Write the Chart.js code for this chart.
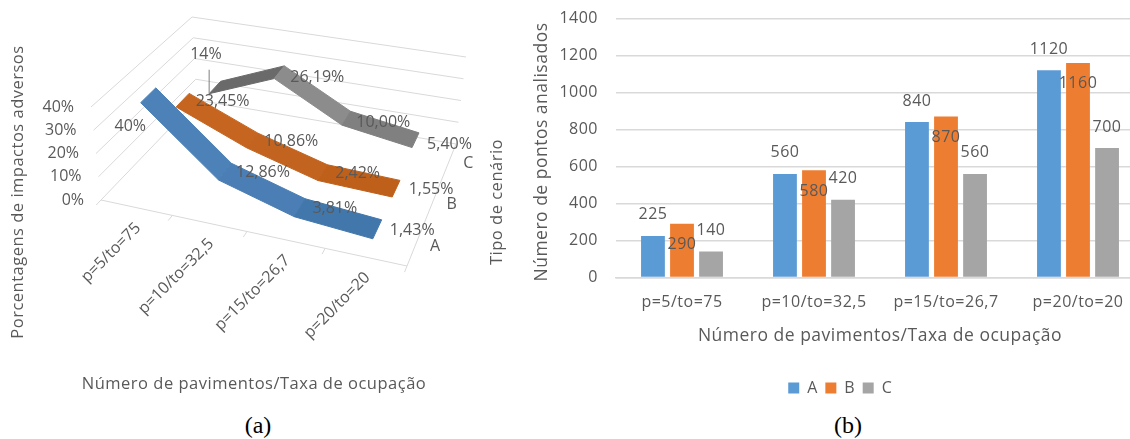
<!DOCTYPE html>
<html>
<head>
<meta charset="utf-8">
<title>Impactos adversos e pontos analisados</title>
<script src="https://cdn.jsdelivr.net/npm/chart.js@4"></script>
<style>
  html, body { margin: 0; padding: 0; background: #fff; overflow: hidden; }
  #page { position: relative; width: 1130px; height: 439px; overflow: hidden; }
  canvas { position: absolute; top: 0; }
  #impactos { left: 0; }
  #pontos { left: 480px; }
  .caption {
    position: absolute; top: 412px; width: 40px; text-align: center;
    font: 24px "Liberation Serif", serif; color: #000;
  }
</style>
</head>
<body>
<div id="page">
  <canvas id="impactos" width="480" height="400"></canvas>
  <canvas id="pontos" width="716" height="410"></canvas>
  <div class="caption" style="left:238px">(a)</div>
  <div class="caption" style="left:828px">(b)</div>
</div>
<script>
const categories = ['p=5/to=75', 'p=10/to=32,5', 'p=15/to=26,7', 'p=20/to=20'];
const seriesNames = ['A', 'B', 'C'];

// left chart, percentages
const impactsA = [40, 12.86, 3.81, 1.43];
const impactsB = [23.45, 10.86, 2.42, 1.55];
const impactsC = [14, 26.19, 10, 5.4];
const impactLabelsA = ['40%', '12,86%', '3,81%', '1,43%'];
const impactLabelsB = ['23,45%', '10,86%', '2,42%', '1,55%'];
const impactLabelsC = ['14%', '26,19%', '10,00%', '5,40%'];

// right chart, counts
const pointsA = [225, 560, 840, 1120];
const pointsB = [290, 580, 870, 1160];
const pointsC = [140, 420, 560, 700];

const TEXT = '#595959';
const GRID = '#d9d9d9';
const FONT = '"Open Sans", sans-serif';
const BLUE = '#5b9bd5', ORANGE = '#ed7d31', GRAY = '#a5a5a5';

// corners of the 3D box in canvas pixels: floor and the 40% plane
const floor = { fl: [101, 200], fr: [407, 266], bl: [197, 100], br: [456, 144] };
const roof = { fl: [91, 107], fr: [419, 170], bl: [192, 17], br: [466, 57] };

// depth band of each ribbon, 0 = front of the floor, 1 = back
const bands = [[0.125, 0.285], [0.475, 0.615], [0.82, 0.945]];
const sideShades = [
  ['#4d82b8', '#4a7eb4', '#4277ac'],
  ['#c5651f', '#c2631f', '#bf601a'],
  ['#6a6a6a', '#8c8c8c', '#808080']
];
// label offsets by "series-point", everything else sits right of its vertex
const labelNudge = {
  '0-0': [-53, 31], '0-1': [3, 1],
  '1-0': [5, 1], '1-1': [4, 1],
  '2-0': [-44, -33], '2-1': [3, 5], '2-2': [2, 4], '2-3': [-1, 4]
};

function mix(a, b, t) {
  return [a[0] + (b[0] - a[0]) * t, a[1] + (b[1] - a[1]) * t];
}

function project(rawU, v, h) {
  // categories get wider towards the viewer's right
  const u = rawU / (1 + 0.096 * (1 - rawU));
  const low = mix(mix(floor.fl, floor.fr, u), mix(floor.bl, floor.br, u), v);
  const high = mix(mix(roof.fl, roof.fr, u), mix(roof.bl, roof.br, u), v);
  return mix(low, high, h);
}

function strokeLine(ctx, a, b) {
  ctx.beginPath();
  ctx.moveTo(a[0], a[1]);
  ctx.lineTo(b[0], b[1]);
  ctx.stroke();
}

function spacedTitle(ctx, text, x, y, rotated) {
  ctx.save();
  ctx.letterSpacing = '0.5px';
  ctx.translate(x, y);
  if (rotated) ctx.rotate(-Math.PI / 2);
  ctx.fillText(text, 0, 0);
  ctx.restore();
}

const perspective = {
  id: 'perspective',
  afterDatasetsDraw(chart) {
    const { ctx, scales: { x, y } } = chart;
    const toUnit = p => [(p.x - x.left) / x.width, (y.bottom - p.y) / y.height];
    ctx.save();

    // walls and floor
    ctx.strokeStyle = GRID;
    ctx.lineWidth = 1;
    y.ticks.forEach(t => {
      const h = t.value / y.max;
      strokeLine(ctx, project(0, 0, h), project(0, 1, h));
      strokeLine(ctx, project(0, 1, h), project(1, 1, h));
    });
    strokeLine(ctx, project(0, 0, 0), project(1, 0, 0));
    strokeLine(ctx, project(1, 0, 0), project(1, 1, 0));
    for (let i = 0; i <= categories.length; i++) {
      strokeLine(ctx, project(i / categories.length, 0, 0), project(i / categories.length, -0.05, 0));
    }

    // ribbons, back one first
    [2, 1, 0].forEach(s => {
      const pts = chart.getDatasetMeta(s).data.map(p => toUnit(p));
      const [near, far] = bands[s];
      for (let i = 0; i < pts.length - 1; i++) {
        const a = pts[i], b = pts[i + 1];
        const quad = [project(a[0], near, a[1]), project(a[0], far, a[1]), project(b[0], far, b[1]), project(b[0], near, b[1])];
        ctx.fillStyle = sideShades[s][i];
        ctx.strokeStyle = sideShades[s][i];
        ctx.beginPath();
        quad.forEach((q, k) => k ? ctx.lineTo(q[0], q[1]) : ctx.moveTo(q[0], q[1]));
        ctx.closePath();
        ctx.fill();
        ctx.stroke();
      }
    });

    ctx.fillStyle = TEXT;
    ctx.font = '16px ' + FONT;
    ctx.textBaseline = 'middle';

    // value labels beside each ribbon vertex
    ctx.textAlign = 'center';
    const allLabels = [impactLabelsA, impactLabelsB, impactLabelsC];
    [0, 1, 2].forEach(s => {
      const pts = chart.getDatasetMeta(s).data.map(p => toUnit(p));
      const mid = (bands[s][0] + bands[s][1]) / 2;
      pts.forEach((p, i) => {
        const c = project(p[0], mid, p[1]);
        const n = labelNudge[s + '-' + i] || [0, 1];
        ctx.fillText(allLabels[s][i], c[0] + 35 + n[0], c[1] + n[1]);
      });
    });

    // leader from the 14% label to its ribbon
    const first = toUnit(chart.getDatasetMeta(2).data[0]);
    const foot = project(first[0], bands[2][0], first[1]);
    ctx.strokeStyle = '#7f7f7f';
    strokeLine(ctx, [foot[0], foot[1] - 24], foot);

    // series names along the side of the floor
    seriesNames.forEach((name, s) => {
      const c = project(1, (bands[s][0] + bands[s][1]) / 2, 0);
      ctx.fillText(name, c[0] + 18, c[1] + 5);
    });

    // percent ticks in front of the left wall
    ctx.textAlign = 'right';
    y.ticks.forEach(t => {
      const c = project(0, 0, t.value / y.max);
      ctx.fillText(t.value + '%', c[0] - 17, c[1]);
    });

    // slanted category labels
    categories.forEach((label, i) => {
      const c = project((i + 0.5) / categories.length, 0, 0);
      ctx.save();
      ctx.translate(c[0] + 2, c[1] + 18);
      ctx.rotate(-Math.PI / 4);
      ctx.fillText(label, 0, 0);
      ctx.restore();
    });

    ctx.textAlign = 'center';
    ctx.font = '16.5px ' + FONT;
    spacedTitle(ctx, 'Número de pavimentos/Taxa de ocupação', 254, 384, false);
    spacedTitle(ctx, 'Porcentagens de impactos adversos', 18, 192, true);
    ctx.restore();
  }
};

new Chart(document.getElementById('impactos'), {
  type: 'line',
  data: {
    labels: categories,
    datasets: [
      { label: 'A', data: impactsA, showLine: false, pointRadius: 0 },
      { label: 'B', data: impactsB, showLine: false, pointRadius: 0 },
      { label: 'C', data: impactsC, showLine: false, pointRadius: 0 }
    ]
  },
  options: {
    responsive: false,
    animation: false,
    events: [],
    plugins: { legend: { display: false }, tooltip: { enabled: false } },
    scales: {
      x: { display: false, offset: true },
      y: { display: false, min: 0, max: 40, ticks: { stepSize: 10 } }
    }
  },
  plugins: [perspective]
});

// value labels sit above the A and C bars and below the top of the B bars
const barLabels = {
  id: 'barLabels',
  afterLayout(chart) {
    // legend is centred a little right of the plot
    chart.legend.left += 27.5;
    chart.legend.right += 27.5;
  },
  beforeDraw(chart) {
    chart.ctx.letterSpacing = '0.5px';
  },
  afterDatasetsDraw(chart) {
    const { ctx } = chart;
    ctx.save();
    ctx.fillStyle = TEXT;
    ctx.font = '16px ' + FONT;
    ctx.textAlign = 'center';
    ctx.textBaseline = 'middle';
    chart.data.datasets.forEach((ds, s) => {
      chart.getDatasetMeta(s).data.forEach((bar, i) => {
        ctx.fillText(ds.data[i], bar.x, bar.y + (s === 1 ? 21 : -21));
      });
    });
    ctx.font = '16.5px ' + FONT;
    spacedTitle(ctx, 'Tipo de cenário', 17, 202, true);
    ctx.font = '17.5px ' + FONT;
    spacedTitle(ctx, 'Número de pontos analisados', 62, 152, true);
    ctx.restore();
  }
};

new Chart(document.getElementById('pontos'), {
  type: 'bar',
  data: {
    labels: categories,
    datasets: [
      { label: 'A', data: pointsA, backgroundColor: BLUE },
      { label: 'B', data: pointsB, backgroundColor: ORANGE },
      { label: 'C', data: pointsC, backgroundColor: GRAY }
    ]
  },
  options: {
    responsive: false,
    animation: false,
    events: [],
    categoryPercentage: 0.66,
    barPercentage: 0.82,
    layout: { autoPadding: false, padding: { top: 18.5, right: 52, bottom: 4 } },
    plugins: {
      tooltip: { enabled: false },
      legend: {
        position: 'bottom',
        labels: { boxWidth: 11, boxHeight: 11, padding: 7.5, color: TEXT, font: { family: FONT, size: 16 } }
      }
    },
    scales: {
      x: {
        grid: { display: false, drawTicks: false },
        border: { color: GRID, width: 1.5 },
        ticks: { color: TEXT, padding: 15, font: { family: FONT, size: 16 } },
        title: { display: true, text: 'Número de pavimentos/Taxa de ocupação', color: TEXT, font: { family: FONT, size: 17.5 }, padding: { top: 8, bottom: 26 } },
        afterFit(scale) { scale.height = 95; }
      },
      y: {
        min: 0,
        max: 1400,
        // the tick gap comes from invisible tick marks so the top label adds no inset
        grid: { color: GRID, lineWidth: 1.5, tickColor: 'transparent', tickLength: 18 },
        border: { display: false },
        ticks: { stepSize: 200, color: TEXT, padding: 0, font: { family: FONT, size: 16 }, callback: v => String(v) },
        afterFit(scale) { scale.width = 136; }
      }
    }
  },
  plugins: [barLabels]
});
</script>
</body>
</html>
